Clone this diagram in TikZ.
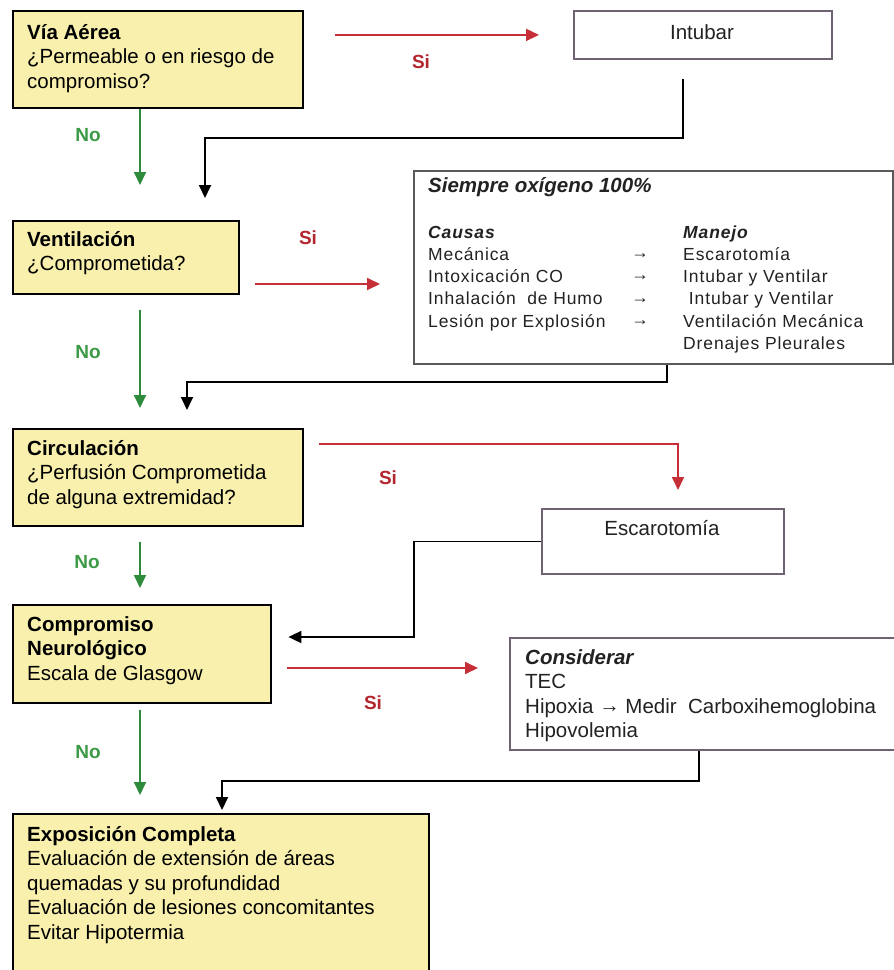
\documentclass[tikz,border=0pt]{standalone}
\usepackage{fontspec}
\setmainfont{Liberation Sans}
\newfontfamily\spacedfont[LetterSpace=5]{Liberation Sans}
\usetikzlibrary{arrows.meta,calc}
\definecolor{boxyellow}{HTML}{F8F0AC}
\definecolor{arrred}{HTML}{C62F37}
\definecolor{txtred}{HTML}{B3262E}
\definecolor{arrgreen}{HTML}{2E8B3C}
\definecolor{txtgreen}{HTML}{3A9A45}
\definecolor{wborder}{HTML}{6F6272}
\definecolor{sborder}{HTML}{5A5A5A}
\definecolor{txtgray}{HTML}{222222}
\newcommand{\mainsize}{\fontsize{20.5}{24.5}\selectfont}
\newcommand{\smallsize}{\spacedfont\fontsize{17.5}{22.3}\selectfont}
\newcommand{\Lines}[1]{\vtop{#1}}
\newcommand{\Li}[1]{\hbox{#1}}
\newcommand{\Arr}{\raisebox{2.5pt}{→}}
\begin{document}
\begin{tikzpicture}[x=1pt,y=-1pt,
  ybox/.style={draw=black, line width=2.4pt, fill=boxyellow, anchor=north west, inner sep=0pt},
  wbox/.style={draw=wborder, line width=1.8pt, fill=white, anchor=north west, inner sep=0pt},
  sbox/.style={draw=sborder, line width=1.8pt, fill=white, anchor=north west, inner sep=0pt},
  txt/.style={anchor=base west, inner sep=0pt, font=\mainsize, text=black},
  wtxt/.style={anchor=base west, inner sep=0pt, font=\mainsize, text=txtgray},
  stxt/.style={anchor=base west, inner sep=0pt, font=\smallsize, text=txtgray},
  redarr/.style={draw=arrred, line width=1.8pt, -{Triangle[width=12pt,length=13pt]}},
  greenarr/.style={draw=arrgreen, line width=1.8pt, -{Triangle[width=12pt,length=13pt]}},
  blackarr/.style={draw=black, line width=1.8pt, -{Triangle[width=12pt,length=13pt]}},
  nolab/.style={font=\fontsize{19}{21}\selectfont\bfseries, text=txtgreen, inner sep=0pt},
  silab/.style={font=\fontsize{19}{21}\selectfont\bfseries, text=txtred, inner sep=0pt}
]
\useasboundingbox (0,0) rectangle (894,970);
\fill[white] (0,0) rectangle (894,970);

% boxes
\node[ybox, minimum width=290pt, minimum height=97pt] (b1) at (12,10) {};
\node[wbox, minimum width=258pt, minimum height=48pt] (int) at (573,10) {};
\node[ybox, minimum width=226pt, minimum height=73pt] (b2) at (12,220) {};
\node[sbox, minimum width=479pt, minimum height=193pt] (sie) at (413,170) {};
\node[ybox, minimum width=290pt, minimum height=97pt] (b3) at (12,428) {};
\node[wbox, minimum width=242pt, minimum height=65pt] (esc) at (541,508) {};
\node[ybox, minimum width=258pt, minimum height=98pt] (b4) at (12,604) {};
\node[wbox, minimum width=420pt, minimum height=112pt] (con) at (509,637) {};
\node[ybox, minimum width=416pt, minimum height=200pt] (b5) at (12,813) {};

% texts
\node[txt] (t1) at (27,39) {\Lines{\Li{\bfseries Vía Aérea}\Li{¿Permeable o en riesgo de}\Li{compromiso?}}};
\node[wtxt, anchor=base] (tint) at (702,39) {Intubar};
\node[txt] (t2) at (27,246) {\Lines{\Li{\bfseries Ventilación}\Li{¿Comprometida?}}};
\node[wtxt, font=\mainsize\bfseries\itshape] (tsie) at (428,192) {Siempre oxígeno 100\%};
\node[stxt] (tcau) at (428,238) {\Lines{\Li{\bfseries\itshape Causas}\Li{Mecánica}\Li{Intoxicación CO}\Li{Inhalación\ \ de Humo}\Li{Lesión por Explosión}}};
\node[stxt, anchor=base] (tarr) at (640,261) {\Lines{\Li{\Arr}\Li{\Arr}\Li{\Arr}\Li{\Arr}}};
\node[stxt] (tman) at (683,238) {\Lines{\Li{\bfseries\itshape Manejo}\Li{Escarotomía}\Li{Intubar y Ventilar}\Li{\ Intubar y Ventilar}\Li{Ventilación Mecánica}\Li{Drenajes Pleurales}}};
\node[txt] (t3) at (27,455) {\Lines{\Li{\bfseries Circulación}\Li{¿Perfusión Comprometida}\Li{de alguna extremidad?}}};
\node[wtxt, anchor=base] (tesc) at (662,535) {Escarotomía};
\node[txt] (t4) at (27,631) {\Lines{\Li{\bfseries Compromiso}\Li{\bfseries Neurológico}\Li{Escala de Glasgow}}};
\node[wtxt] (tcon) at (525,664) {\Lines{\Li{\bfseries\itshape Considerar}\Li{TEC}\Li{Hipoxia \raisebox{1pt}{→} Medir\ \ Carboxihemoglobina}\Li{Hipovolemia}}};
\node[txt] (t5) at (27,841) {\Lines{\Li{\bfseries Exposición Completa}\Li{Evaluación de extensión de áreas}\Li{quemadas y su profundidad}\Li{Evaluación de lesiones concomitantes}\Li{Evitar Hipotermia}}};

% labels
\node[nolab] (n1) at (88,135) {No};
\node[nolab] (n2) at (88,352) {No};
\node[nolab] (n3) at (87,562) {No};
\node[nolab] (n4) at (88,752) {No};
\node[silab] (s1) at (421,62) {Si};
\node[silab] (s2) at (308,238) {Si};
\node[silab] (s3) at (388,478) {Si};
\node[silab] (s4) at (373,703) {Si};

% helper coordinates
\coordinate (gx) at (140,0);
\coordinate (k1) at (205,138);
\coordinate (k2) at (187,382);
\coordinate (k3) at (414,637);
\coordinate (k4) at (222,781);
\coordinate (r2) at (0,284);
\coordinate (r3) at (678,444);
\coordinate (r4) at (0,668);

% green (No) arrows
\draw[greenarr, shorten >=35pt] (b1.south -| gx) -- (b2.north -| gx);
\draw[greenarr, shorten <=15pt, shorten >=20pt] (b2.south -| gx) -- (b3.north -| gx);
\draw[greenarr, shorten <=15pt, shorten >=16pt] (b3.south -| gx) -- (b4.north -| gx);
\draw[greenarr, shorten <=6pt, shorten >=18pt] (b4.south -| gx) -- (b5.north -| gx);

% red (Si) arrows
\draw[redarr, shorten <=31pt, shorten >=34pt] (b1.north east |- int.west) -- (int.west);
\draw[redarr, shorten <=15pt, shorten >=33pt] (b2.east |- r2) -- (sie.west |- r2);
\draw[redarr, shorten <=15pt, shorten >=18pt] (b3.east |- r3) -| (esc.north -| r3);
\draw[redarr, shorten <=15pt, shorten >=31pt] (b4.east |- r4) -- (con.west |- r4);

% black return connectors
\draw[blackarr, shorten >=22pt] ($(int.south west)+(110,19)$) |- (k1) -- (k1 |- b2.north);
\draw[blackarr, shorten >=18pt] ($(sie.south west)+(254,0)$) |- (k2) -- (k2 |- b3.north);
\draw[blackarr, shorten >=16pt] (esc.west) -| (k3) -- (k3 -| b4.east);
\draw[blackarr, shorten >=3pt] ($(con.south west)+(190,0)$) |- (k4) -- (k4 |- b5.north);
\end{tikzpicture}
\end{document}
